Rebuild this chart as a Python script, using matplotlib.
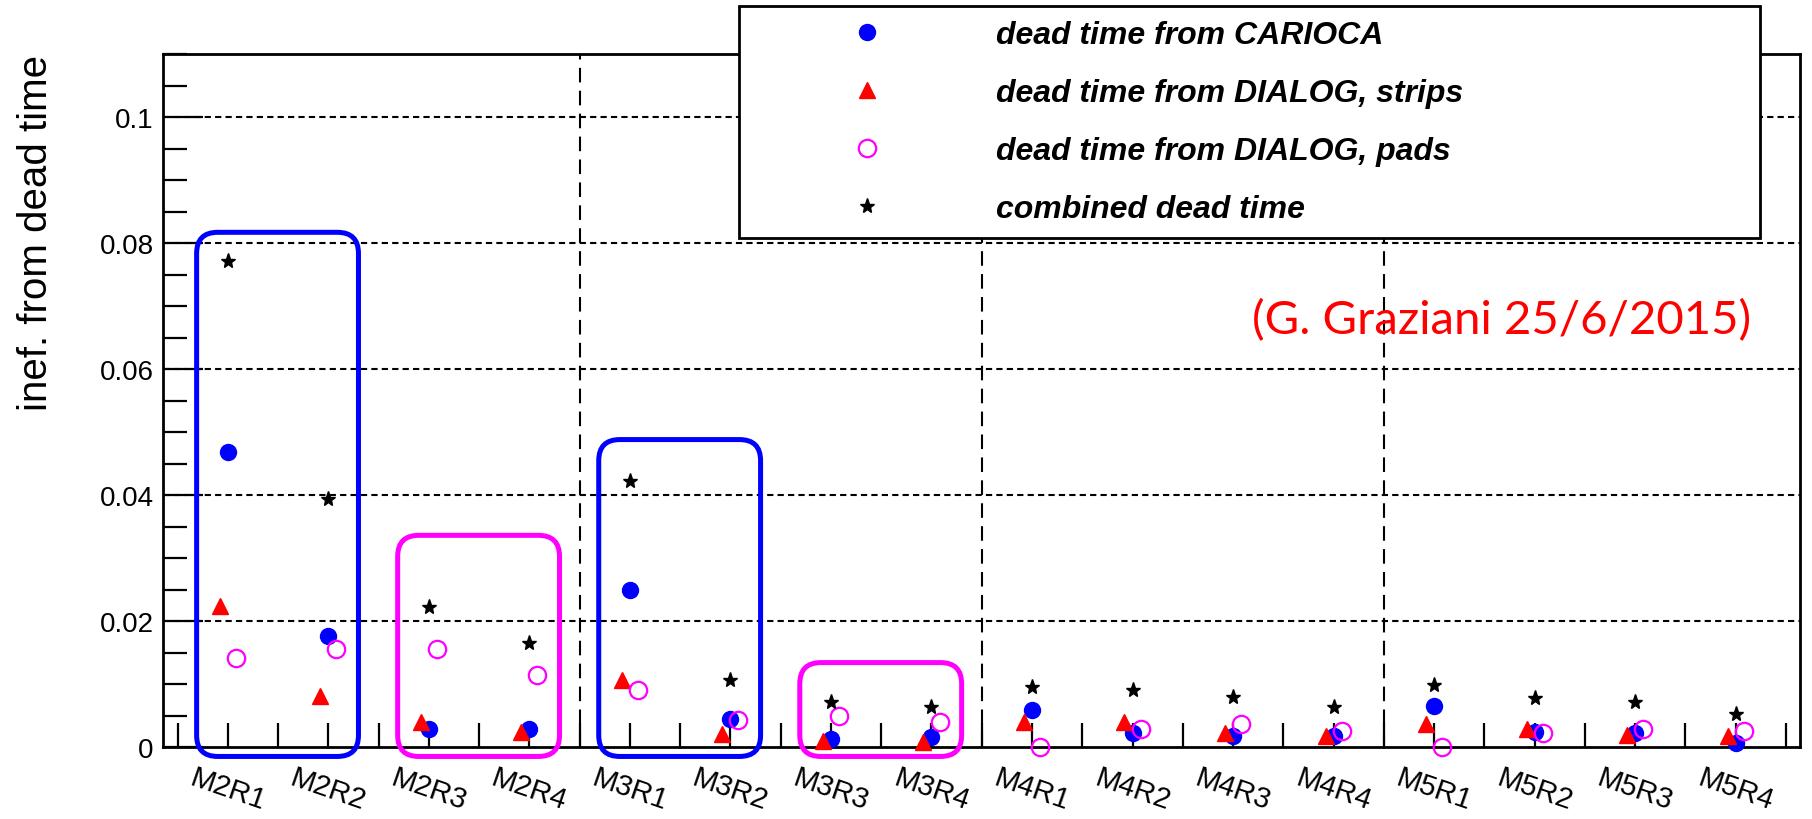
import matplotlib
matplotlib.use("Agg")
import matplotlib.pyplot as plt
from matplotlib.patches import FancyBboxPatch
from matplotlib.ticker import MultipleLocator

# chamber regions on the x axis
regions = ["M2R1", "M2R2", "M2R3", "M2R4", "M3R1", "M3R2", "M3R3", "M3R4",
           "M4R1", "M4R2", "M4R3", "M4R4", "M5R1", "M5R2", "M5R3", "M5R4"]

# inefficiency from dead time
carioca = [0.0468, 0.0176, 0.0028, 0.0028, 0.0250, 0.0044, 0.0013, 0.0016,
           0.0058, 0.0022, 0.0017, 0.0018, 0.0065, 0.0024, 0.0023, 0.0007]
dialog_strips = [0.0224, 0.0081, 0.0039, 0.0024, 0.0106, 0.0021, 0.0010, 0.0008,
                 0.0040, 0.0039, 0.0023, 0.0018, 0.0036, 0.0029, 0.0019, 0.0018]
dialog_pads = [0.0142, 0.0155, 0.0156, 0.0114, 0.0090, 0.0043, 0.0049, 0.0040,
               0.0000, 0.0028, 0.0036, 0.0025, 0.0000, 0.0023, 0.0029, 0.0026]
combined = [0.0772, 0.0394, 0.0223, 0.0165, 0.0423, 0.0106, 0.0072, 0.0063,
            0.0095, 0.0090, 0.0079, 0.0063, 0.0099, 0.0077, 0.0071, 0.0052]

# highlight boxes: (first region, last region, top value, colour)
boxes = [("M2R1", "M2R2", 0.0817, "#0000ff"),
         ("M2R3", "M2R4", 0.0336, "#ff00ff"),
         ("M3R1", "M3R2", 0.0488, "#0000ff"),
         ("M3R3", "M3R4", 0.0134, "#ff00ff")]

# station boundaries
station_edges = [3.5, 7.5, 11.5]

fig = plt.figure(figsize=(18.12, 8.2), dpi=100)
ax = fig.add_axes([0.0902, 0.0878, 0.9934 - 0.0902, 0.9329 - 0.0878])

x = list(range(len(regions)))
dx = 0.08

ax.plot(x, carioca, linestyle="none", marker="o", ms=11.5, color="#0000ff",
        mec="#0000ff", label="dead time from CARIOCA", clip_on=False, zorder=4)
ax.plot([i - dx for i in x], dialog_strips, linestyle="none", marker="^", ms=11,
        color="#ff0000", mec="#ff0000", label="dead time from DIALOG, strips",
        clip_on=False, zorder=4)
ax.plot([i + dx for i in x], dialog_pads, linestyle="none", marker="o", ms=12.5,
        mfc="none", mec="#ff00ff", mew=1.6, label="dead time from DIALOG, pads",
        clip_on=False, zorder=4)
ax.plot(x, combined, linestyle="none", marker="*", ms=11, color="black",
        label="combined dead time", clip_on=False, zorder=4)

# rounded boxes around groups
x_unit = (0.9934 - 0.0902) * 1812 / 16.28
y_unit = (0.9329 - 0.0878) * 820 / 0.11
for first, last, top, col in boxes:
    i0 = regions.index(first) - 0.31
    i1 = regions.index(last) + 0.30
    bottom = -0.0015
    patch = FancyBboxPatch((i0, bottom), i1 - i0, top - bottom,
                           boxstyle="round,pad=0,rounding_size=0.21",
                           mutation_aspect=x_unit / y_unit,
                           fill=False, edgecolor=col, linewidth=3.6,
                           clip_on=False, zorder=3)
    ax.add_patch(patch)

ax.set_xlim(-0.64, 15.64)
ax.set_ylim(0, 0.11)

# grid like the ROOT canvas
for yv in [0.02, 0.04, 0.06, 0.08, 0.1]:
    ax.axhline(yv, color="black", lw=1.5, linestyle=(0, (3, 2)), zorder=1)
for xv in station_edges:
    ax.axvline(xv, color="black", lw=1.5, linestyle=(0, (7, 4)), zorder=1)

ax.set_xticks(x)
ax.set_xticklabels(regions, rotation=-19, ha="center", fontsize=21,
                   family="Liberation Sans")
ax.xaxis.set_minor_locator(MultipleLocator(0.5))
ax.tick_params(axis="x", which="both", direction="in", length=17, width=1.6,
               pad=12, top=False)

ax.set_yticks([0, 0.02, 0.04, 0.06, 0.08, 0.1])
ax.set_yticklabels(["0", "0.02", "0.04", "0.06", "0.08", "0.1"], fontsize=20,
                   family="Liberation Sans")
ax.yaxis.set_minor_locator(MultipleLocator(0.005))
ax.tick_params(axis="y", which="major", direction="in", length=29, width=1.6,
               pad=7, right=False)
ax.tick_params(axis="y", which="minor", direction="in", length=17, width=1.6,
               right=False)

for s in ax.spines.values():
    s.set_linewidth(2)

fig.text(0.0199, 0.933, "inef. from dead time", rotation=90, ha="center",
         va="top", fontsize=29, family="Liberation Sans")

fig.text(1502 / 1812, 1 - 321 / 820, "(G. Graziani 25/6/2015)", color="#ff0000",
         ha="center", va="center", fontsize=34, family="Lato")

leg = fig.legend(loc="upper left",
                 bbox_to_anchor=(739 / 1812, 1 - 266 / 820,
                                 (1760 - 739) / 1812, (266 - 7) / 820),
                 mode="expand", borderaxespad=0, fancybox=False,
                 edgecolor="black", framealpha=1, handlelength=7.1,
                 handletextpad=0.48, borderpad=0.45, labelspacing=0.87,
                 prop={"family": "Liberation Sans", "weight": "bold",
                       "style": "italic", "size": 23})
leg.get_frame().set_linewidth(2)

fig.savefig("out.png", dpi=100)
